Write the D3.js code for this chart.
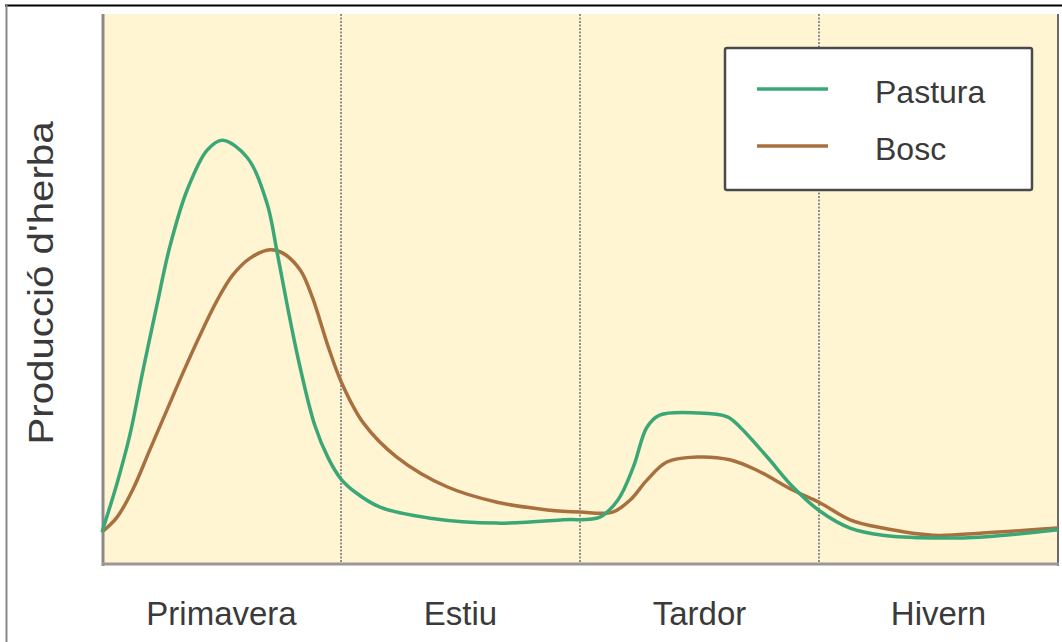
<!DOCTYPE html>
<html>
<head>
<meta charset="utf-8">
<script src="https://cdn.jsdelivr.net/npm/d3@7"></script>
<style>
  html, body { margin: 0; padding: 0; background: #fff; }
  svg { display: block; }
  text { font-family: "Liberation Sans", Arial, Helvetica, sans-serif; fill: #3a3a3a; }
</style>
</head>
<body>
<svg id="chart" width="1062" height="642"></svg>
<script>
// Seasons (each spans 3 months on the x axis, 0–12)
const seasons = ["Primavera", "Estiu", "Tardor", "Hivern"];
const seriesNames = ["Pastura", "Bosc"];
const yLabel = "Producció d'herba";

// Month position within the year (0 = start of spring)
const pasturaX = [0, 0.19, 0.35, 0.51, 0.69, 0.85, 1.07, 1.32, 1.51, 1.82, 2.07, 2.2, 2.32, 2.48, 2.67, 2.84, 3.0, 3.18, 3.49, 4.12, 4.96, 5.79, 6.25, 6.48, 6.67, 6.84, 7.0, 7.47, 7.85, 8.01, 8.35, 8.67, 9.01, 9.39, 9.8, 10.43, 11.06, 12.0];
const pasturaY = [6.0, 14.9, 23.6, 35.0, 47.2, 57.7, 68.1, 75.3, 77.1, 74.0, 65.7, 56.6, 47.5, 36.3, 25.4, 19.4, 15.6, 13.2, 10.5, 8.5, 7.6, 8.2, 8.7, 11.9, 17.8, 25.0, 27.2, 27.6, 26.9, 25.0, 19.6, 14.2, 9.8, 6.7, 5.4, 4.9, 5.1, 6.4];

const boscX = [0, 0.19, 0.39, 0.6, 0.82, 1.02, 1.23, 1.44, 1.64, 1.86, 2.11, 2.27, 2.49, 2.64, 2.84, 3.01, 3.28, 3.7, 4.33, 4.96, 5.59, 6.0, 6.41, 6.63, 6.84, 7.09, 7.47, 7.88, 8.22, 8.67, 9.01, 9.39, 9.8, 10.43, 11.06, 12.0];
const boscY = [6.0, 8.7, 13.8, 20.9, 28.3, 35.0, 41.7, 47.9, 52.6, 55.7, 57.2, 56.6, 53.5, 48.6, 39.6, 33.0, 25.8, 19.6, 14.2, 11.4, 10.0, 9.6, 9.6, 11.8, 15.4, 18.7, 19.6, 19.1, 17.2, 13.6, 11.3, 8.2, 6.7, 5.4, 5.8, 6.7];

const colors = ["#3ba777", "#a8703f"];

const svg = d3.select("#chart");
const L = 102, R = 1058, T = 14, B = 564;

const x = d3.scaleLinear().domain([0, 12]).range([L, R]);
const y = d3.scaleLinear().domain([0, 100]).range([565, T]);
const xs = d3.scaleBand().domain(seasons).range([L, R]);

// outer frame (top and left only)
svg.append("line").attr("x1", 5).attr("x2", 1062).attr("y1", 5.5).attr("y2", 5.5)
  .attr("stroke", "#000").attr("stroke-width", 2);
svg.append("line").attr("x1", 6.5).attr("x2", 6.5).attr("y1", 5).attr("y2", 642)
  .attr("stroke", "#888").attr("stroke-width", 2);

// plot background
svg.append("rect").attr("x", L).attr("y", T).attr("width", R - L).attr("height", B - T)
  .attr("fill", "#fff5d3");

// season dividers
svg.append("g").selectAll("line").data(seasons.slice(1)).join("line")
  .attr("x1", d => xs(d)).attr("x2", d => xs(d))
  .attr("y1", T).attr("y2", B)
  .attr("stroke", "#8f8f8f").attr("stroke-width", 2).attr("stroke-dasharray", "2,1.5");

// plot borders
svg.append("line").attr("x1", L + 1).attr("x2", L + 1).attr("y1", T).attr("y2", B + 2)
  .attr("stroke", "#8c8a84").attr("stroke-width", 3);
svg.append("line").attr("x1", R).attr("x2", R).attr("y1", T).attr("y2", B + 2)
  .attr("stroke", "#6a6a6a").attr("stroke-width", 2);
svg.append("line").attr("x1", L).attr("x2", R + 1).attr("y1", B).attr("y2", B)
  .attr("stroke", "#9a9894").attr("stroke-width", 3);

// season labels (axis)
const xAxis = d3.axisBottom(xs).tickSize(0).tickPadding(0);
const gx = svg.append("g").attr("transform", `translate(0,${B})`).call(xAxis);
gx.select(".domain").remove();
gx.selectAll("text").attr("y", 0).attr("dy", 0)
  .attr("transform", "translate(0,61)")
  .style("font-size", "33px").style("font-family", "'Liberation Sans', Arial, sans-serif")
  .attr("fill", "#3a3a3a");

// y label
svg.append("text")
  .attr("transform", `translate(53,${(T + B) / 2 - 6}) rotate(-90) scale(1.15,1)`)
  .attr("text-anchor", "middle")
  .style("font-size", "35px")
  .text(yLabel);

// lines
const line = d3.line().x(d => x(d[0])).y(d => y(d[1])).curve(d3.curveCatmullRom.alpha(0.5));
const series = [
  { name: seriesNames[0], pts: d3.zip(pasturaX, pasturaY), color: colors[0] },
  { name: seriesNames[1], pts: d3.zip(boscX, boscY), color: colors[1] }
];
svg.append("g").selectAll("path").data(series.slice().reverse()).join("path")
  .attr("d", d => line(d.pts))
  .attr("fill", "none")
  .attr("stroke", d => d.color)
  .attr("stroke-width", 3.5)
  .attr("stroke-linejoin", "round");

// legend
const lg = svg.append("g");
lg.append("rect").attr("x", 725).attr("y", 48).attr("width", 307).attr("height", 142)
  .attr("rx", 2).attr("fill", "#fff").attr("stroke", "#4a4a4a").attr("stroke-width", 2.5);
const li = lg.selectAll("g.item").data(series).join("g").attr("class", "item")
  .attr("transform", (d, i) => `translate(0,${89 + i * 57})`);
li.append("line").attr("x1", 757).attr("x2", 828).attr("y1", 0).attr("y2", 0)
  .attr("stroke", d => d.color).attr("stroke-width", 3.5);
li.append("text").attr("x", 875).attr("y", 14).style("font-size", "32px").text(d => d.name);
</script>
</body>
</html>
